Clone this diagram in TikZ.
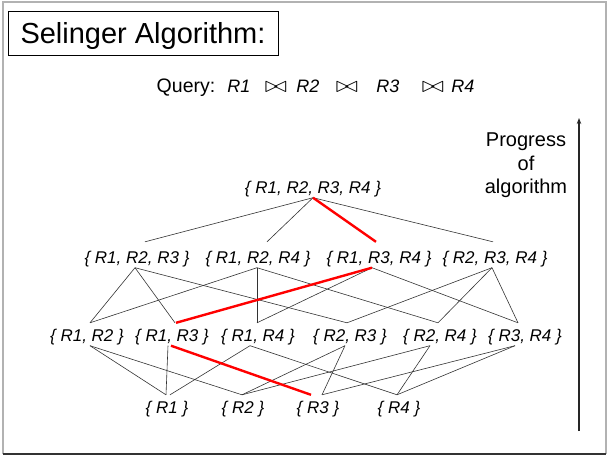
\documentclass[tikz,border=0pt]{standalone}
\usepackage{fontspec}
\usepackage{graphicx}
\setmainfont{Liberation Sans}
\usetikzlibrary{arrows.meta}
\newcommand{\joinsym}{\scalebox{1.1}[0.9]{$\bowtie$}}
\begin{document}
\begin{tikzpicture}[x=1pt,y=-1pt,
  set/.style={font=\fontsize{17}{18}\selectfont\itshape, inner xsep=0pt,
    inner ysep=2pt, text height=16pt, text depth=2.5pt, anchor=base},
  tripleset/.style={set, text height=19pt},
  link/.style={draw=black!80, line width=0.6pt},
  best/.style={draw=red, line width=2.4pt},
  qtext/.style={font=\fontsize{19.5}{22}\selectfont, inner sep=0pt, anchor=base},
  qrel/.style={font=\fontsize{18}{20}\selectfont\itshape, inner sep=0pt, anchor=base},
  qjoin/.style={font=\fontsize{24}{26}\selectfont, inner sep=0pt, anchor=base},
]
\useasboundingbox (0,0) rectangle (608,456);

% slide frame
\draw[gray!60, line width=1.6pt] (3,454) -- (3,2) -- (606,2) -- (606,454);
\draw[black!80, line width=1.2pt] (3,454) -- (606,454);

% title
\node[draw, line width=0.8pt, font=\fontsize{29}{32}\selectfont,
  text height=20.8pt, text depth=0pt, minimum width=270pt, minimum height=44pt,
  inner xsep=0pt] (title) at (143,33) {Selinger Algorithm:};

% query
\node[qtext] (query) at (186,92) {Query:};
\node[qrel] (q1) at (239,92) {R1};
\node[qjoin] (j1) at (276,92) {\joinsym};
\node[qrel] (q2) at (308,92) {R2};
\node[qjoin] (j2) at (347,92) {\joinsym};
\node[qrel] (q3) at (388,92) {R3};
\node[qjoin] (j3) at (433,92) {\joinsym};
\node[qrel] (q4) at (463,92) {R4};

% progress arrow
\node[font=\fontsize{20}{23.5}\selectfont, align=center, inner sep=0pt, anchor=north]
  (progress) at (526,132.7) {Progress\\of\\algorithm};
\coordinate (arrlow) at (579,431);
\coordinate (arrhigh) at (579,118);
\draw[black!85, line width=1.1pt, -{Stealth[length=6pt,width=4.5pt]}] (arrlow) -- (arrhigh);

% subsets of relations
\node[set] (s1234) at (313,193) {\{ R1, R2, R3, R4 \}};

\node[tripleset] (s123) at (137,263) {\{ R1, R2, R3 \}};
\node[tripleset] (s124) at (258,263) {\{ R1, R2, R4 \}};
\node[tripleset] (s134) at (379,263) {\{ R1, R3, R4 \}};
\node[tripleset] (s234) at (495,263) {\{ R2, R3, R4 \}};

\node[set] (s12) at (87,341) {\{ R1, R2 \}};
\node[set] (s13) at (172,341) {\{ R1, R3 \}};
\node[set] (s14) at (258,341) {\{ R1, R4 \}};
\node[set] (s23) at (350,341) {\{ R2, R3 \}};
\node[set] (s24) at (440,341) {\{ R2, R4 \}};
\node[set] (s34) at (525,341) {\{ R3, R4 \}};

\node[set] (s1) at (167,413) {\{ R1 \}};
\node[set] (s2) at (243,413) {\{ R2 \}};
\node[set] (s3) at (318,413) {\{ R3 \}};
\node[set] (s4) at (399,413) {\{ R4 \}};

% full set to triples
\draw[link] (s1234.south) -- ([xshift=8pt]s123.north);
\draw[link] (s1234.south) -- ([xshift=9pt]s124.north);
\draw[link] (s1234.south) -- ([xshift=-2pt]s234.north);

% triples to pairs
\draw[link] ([xshift=-2pt]s123.south) -- ([xshift=3pt]s12.north);
\draw[link] ([xshift=-2pt]s123.south) -- ([xshift=3pt]s13.north);
\draw[link] ([xshift=-2pt]s123.south) -- ([xshift=-3pt]s23.north);
\draw[link] ([xshift=-1pt]s124.south) -- ([xshift=3pt]s12.north);
\draw[link] ([xshift=-1pt]s124.south) -- ([xshift=-1pt]s14.north);
\draw[link] ([xshift=-1pt]s124.south) -- ([xshift=-2pt]s24.north);
\draw[link] ([xshift=-7pt]s134.south) -- ([xshift=-1pt]s14.north);
\draw[link] ([xshift=-7pt]s134.south) -- ([xshift=-7pt]s34.north);
\draw[link] ([xshift=-3pt]s234.south) -- ([xshift=-3pt]s23.north);
\draw[link] ([xshift=-3pt]s234.south) -- ([xshift=-2pt]s24.north);
\draw[link] ([xshift=-3pt]s234.south) -- ([xshift=-7pt]s34.north);

% pairs to singles
\draw[link] ([xshift=3pt]s12.south) -- ([xshift=-1pt]s1.north);
\draw[link] ([xshift=3pt]s12.south) -- ([xshift=-1pt]s2.north);
\draw[link] ([xshift=-4pt]s13.south) -- ([xshift=-1pt]s1.north);
\draw[link] ([xshift=-8pt]s14.south) -- ([xshift=3pt]s1.north);
\draw[link] ([xshift=-8pt]s14.south) -- ([xshift=-2pt]s4.north);
\draw[link] ([xshift=-5pt]s23.south) -- ([xshift=-1pt]s2.north);
\draw[link] ([xshift=-5pt]s23.south) -- ([xshift=4pt]s3.north);
\draw[link] ([xshift=-10pt]s24.south) -- ([xshift=-1pt]s2.north);
\draw[link] ([xshift=-10pt]s24.south) -- ([xshift=-2pt]s4.north);
\draw[link] ([xshift=-10pt]s34.south) -- ([xshift=4pt]s3.north);
\draw[link] ([xshift=-10pt]s34.south) -- ([xshift=-2pt]s4.north);

% chosen plan
\draw[best] (s1234.south) -- ([xshift=-3pt]s134.north);
\draw[best] ([xshift=-7pt]s134.south) -- ([xshift=4pt]s13.north);
\draw[best] ([xshift=-1pt]s13.south) -- ([xshift=-7pt]s3.north);
\end{tikzpicture}
\end{document}
